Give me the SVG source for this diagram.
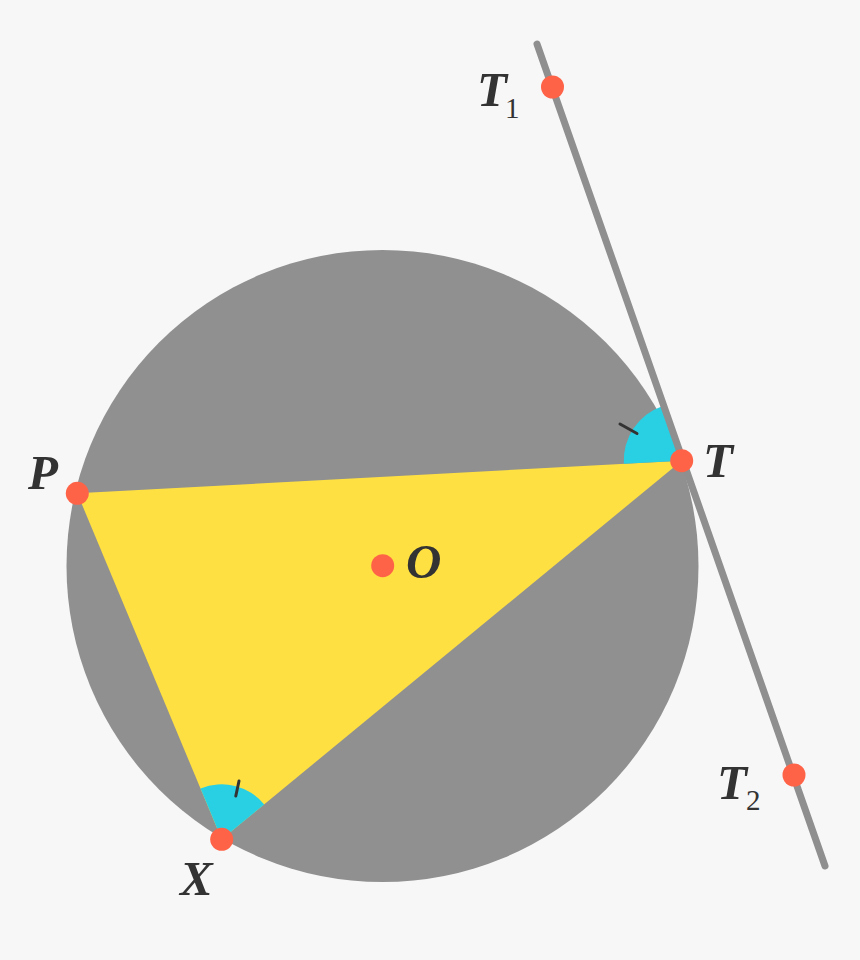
<svg xmlns="http://www.w3.org/2000/svg" width="860" height="960" viewBox="0 0 860 960">
<style>
.lbl{font-family:"Liberation Serif","DejaVu Serif",serif;font-style:italic;font-weight:bold;font-size:49px;fill:#333333}
.sub{font-family:"Liberation Serif","DejaVu Serif",serif;font-size:29px;fill:#333333}
.dot{fill:#ff6347}
.ang{fill:#29d0e3}
.tick{stroke:#333333;stroke-width:3;stroke-linecap:round}
</style>
<rect width="860" height="960" fill="#f7f7f7"/>
<g id="circle"><circle cx="382.5" cy="566" r="316" fill="#909090"/></g>
<g id="triangle"><polygon points="77.3,493.3 681.7,460.7 221.7,839.3" fill="#ffe042"/></g>
<g id="angles">
<path class="ang" d="M681.7,460.7 L623.8,463.8 A58,58 0 0 1 662.7,405.9 Z"/>
<path class="ang" d="M221.7,839.3 L200.5,788.5 A55,55 0 0 1 264.2,804.4 Z"/>
<line class="tick" x1="620" y1="424" x2="637" y2="433.5"/>
<line class="tick" x1="239" y1="781" x2="235.8" y2="796"/>
</g>
<g id="connectors">
<line x1="537" y1="44" x2="825" y2="866" stroke="#8f8f8f" stroke-width="7" stroke-linecap="round"/>
</g>
<g id="P"><circle class="dot" cx="77.3" cy="493.3" r="11.5"/><text class="lbl" x="28" y="489">P</text></g>
<g id="T"><circle class="dot" cx="681.7" cy="460.7" r="11.5"/><text class="lbl" x="703" y="477">T</text></g>
<g id="X"><circle class="dot" cx="221.7" cy="839.3" r="11.5"/><text class="lbl" x="180" y="895">X</text></g>
<g id="O"><circle class="dot" cx="382.7" cy="565.7" r="11.5"/><text class="lbl" x="406" y="578">O</text></g>
<g id="T1"><circle class="dot" cx="552.5" cy="87" r="11.5"/><text class="lbl" x="477" y="106">T</text><text class="sub" x="505" y="118">1</text></g>
<g id="T2"><circle class="dot" cx="794" cy="775" r="11.5"/><text class="lbl" x="717" y="799">T</text><text class="sub" x="746" y="810">2</text></g>
</svg>
